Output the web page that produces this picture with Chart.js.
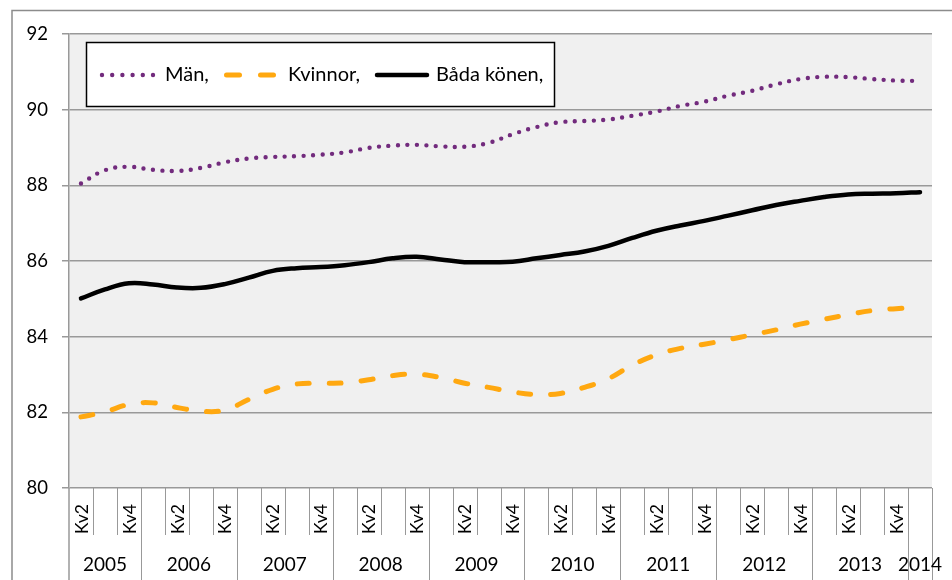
<!DOCTYPE html>
<html><head><meta charset="utf-8">
<script src="https://cdn.jsdelivr.net/npm/chart.js@4.4.1/dist/chart.umd.min.js"></script>
<style>html,body{margin:0;padding:0;background:#fff;}#wrap{width:952px;height:580px;position:relative;}</style>
</head><body><div id="wrap"><canvas id="c" width="952" height="580"></canvas></div>
<script>
const quarters = ['Kv2','Kv3','Kv4',
  'Kv1','Kv2','Kv3','Kv4','Kv1','Kv2','Kv3','Kv4','Kv1','Kv2','Kv3','Kv4','Kv1','Kv2','Kv3','Kv4',
  'Kv1','Kv2','Kv3','Kv4','Kv1','Kv2','Kv3','Kv4','Kv1','Kv2','Kv3','Kv4','Kv1','Kv2','Kv3','Kv4',
  'Kv1'];
const years = ['2005','2005','2005',
  '2006','2006','2006','2006','2007','2007','2007','2007','2008','2008','2008','2008','2009','2009','2009','2009',
  '2010','2010','2010','2010','2011','2011','2011','2011','2012','2012','2012','2012','2013','2013','2013','2013',
  '2014'];
const shownQuarterLabels = ['Kv2','Kv4'];
const seriesNames = ['Män,','Kvinnor,','Båda könen,'];
const man = [88.05,88.40,88.49,88.41,88.38,88.46,88.61,88.71,88.75,88.77,88.81,88.87,88.99,89.05,89.07,89.03,89.02,89.12,
  89.35,89.54,89.67,89.70,89.74,89.84,89.95,90.10,90.21,90.37,90.50,90.67,90.81,90.87,90.86,90.81,90.77,90.76];
const kvinnor = [81.88,82.01,82.21,82.25,82.13,82.03,82.06,82.34,82.61,82.75,82.77,82.78,82.86,82.97,83.01,82.92,82.77,82.66,
  82.54,82.47,82.50,82.66,82.89,83.25,83.52,83.69,83.80,83.92,84.05,84.18,84.33,84.46,84.58,84.69,84.74,84.79];
const bada = [85.01,85.25,85.41,85.38,85.30,85.29,85.39,85.56,85.74,85.81,85.84,85.89,85.97,86.07,86.11,86.04,85.97,85.97,
  85.98,86.07,86.16,86.25,86.40,86.61,86.80,86.94,87.06,87.20,87.34,87.48,87.59,87.69,87.76,87.78,87.79,87.82];
const yMin = 80, yMax = 92, yStep = 2;

const labels = quarters.map((q,i)=>years[i]+' '+q);
const FONT = 'Lato, "Open Sans", sans-serif';
const GRID = '#999999';

const decor = {
  id:'decor',
  beforeDraw(chart){
    const ctx = chart.ctx, a = chart.chartArea;
    ctx.save();
    ctx.fillStyle = '#f0f0f0';
    ctx.fillRect(a.left, a.top, a.right-a.left, a.bottom-a.top);
    ctx.strokeStyle = '#8c8c8c'; ctx.lineWidth = 1.5;
    ctx.beginPath(); ctx.moveTo(12, 580); ctx.lineTo(12, 10.5); ctx.lineTo(952, 10.5); ctx.stroke();
    ctx.restore();
  },
  afterDraw(chart){
    const ctx = chart.ctx, a = chart.chartArea, xs = chart.scales.x;
    ctx.save();
    ctx.strokeStyle = GRID; ctx.lineWidth = 1.5;
    ctx.beginPath(); ctx.moveTo(a.left, a.bottom); ctx.lineTo(a.left, 580); ctx.stroke();
    ctx.lineWidth = 1;
    const n = labels.length;
    const bounds = [];
    for (let i=0;i<=n;i++){
      let bx;
      if (i===0) bx = a.left; else if (i===n) bx = a.right;
      else bx = (xs.getPixelForValue(i-1)+xs.getPixelForValue(i))/2;
      bounds.push(bx);
    }
    for (let i=1;i<=n;i++){
      const yearStart = (i===n) || years[i]!==years[i-1];
      ctx.beginPath();
      ctx.moveTo(Math.round(bounds[i])+0.5, a.bottom);
      ctx.lineTo(Math.round(bounds[i])+0.5, yearStart ? 580 : 535);
      ctx.stroke();
    }
    ctx.fillStyle = '#000';
    ctx.font = '17.5px ' + FONT;
    ctx.textAlign = 'center'; ctx.textBaseline = 'middle';
    for (let i=0;i<n;i++){
      if (!shownQuarterLabels.includes(quarters[i])) continue;
      const x = xs.getPixelForValue(i);
      ctx.save(); ctx.translate(x+1, 519); ctx.rotate(-Math.PI/2);
      ctx.fillText(quarters[i], 0, 0); ctx.restore();
    }
    ctx.font = '19px ' + FONT;
    let s = 0;
    for (let i=1;i<=n;i++){
      if (i===n || years[i]!==years[s]){
        const cx = (bounds[s]+bounds[i])/2;
        ctx.fillText(years[s], cx, 565);
        s = i;
      }
    }
    ctx.fillStyle = '#fff'; ctx.fillRect(86, 42, 469, 65);
    ctx.strokeStyle = '#000'; ctx.lineWidth = 1.5; ctx.strokeRect(86.5, 42.5, 468, 64);
    const samples = [[102,154,165],[226.5,273.5,288],[377,427,436]];
    const ly = 75;
    chart.data.datasets.forEach((ds,k)=>{
      const [x0,x1,tx] = samples[k];
      ctx.save();
      ctx.strokeStyle = ds.borderColor; ctx.lineWidth = ds.borderWidth; ctx.lineCap = 'round';
      ctx.setLineDash(k===0 ? [0,10.2] : k===1 ? [13,21] : []);
      ctx.beginPath(); ctx.moveTo(x0, ly); ctx.lineTo(x1+0.01, ly); ctx.stroke();
      ctx.restore();
      ctx.fillStyle = '#000'; ctx.font = '20px ' + FONT;
      ctx.textAlign = 'left'; ctx.textBaseline = 'middle';
      ctx.fillText(ds.label, tx, ly);
    });
    ctx.restore();
  }
};

new Chart(document.getElementById('c'), {
  type:'line',
  data:{
    labels: labels,
    datasets:[
      {label:seriesNames[0], data:man, borderColor:'#722b7d', borderWidth:4.4, borderDash:[0,9.5], borderCapStyle:'round', pointRadius:0, tension:0.4, fill:false},
      {label:seriesNames[1], data:kvinnor, borderColor:'#ffa810', borderWidth:5, borderDash:[12,20], borderCapStyle:'round', pointRadius:0, tension:0.4, fill:false},
      {label:seriesNames[2], data:bada, borderColor:'#000000', borderWidth:4.5, borderCapStyle:'round', pointRadius:0, tension:0.4, fill:false}
    ]
  },
  options:{
    responsive:false, animation:false, devicePixelRatio:1,
    layout:{padding:{top:34,right:20,left:0,bottom:0}},
    plugins:{legend:{display:false}, tooltip:{enabled:false}},
    scales:{
      x:{type:'category', offset:true, grid:{display:false}, border:{display:false}, ticks:{display:false},
         afterFit(s){ s.height = 92; }},
      y:{min:yMin, max:yMax, ticks:{stepSize:yStep, color:'#000', font:{family:FONT, size:18.5}, padding:14},
         grid:{color:GRID, lineWidth:1.5, tickLength:7, drawTicks:true},
         border:{display:true, color:GRID, width:1.5},
         afterFit(s){ s.width = 69; }}
    }
  },
  plugins:[decor]
});
</script></body></html>
